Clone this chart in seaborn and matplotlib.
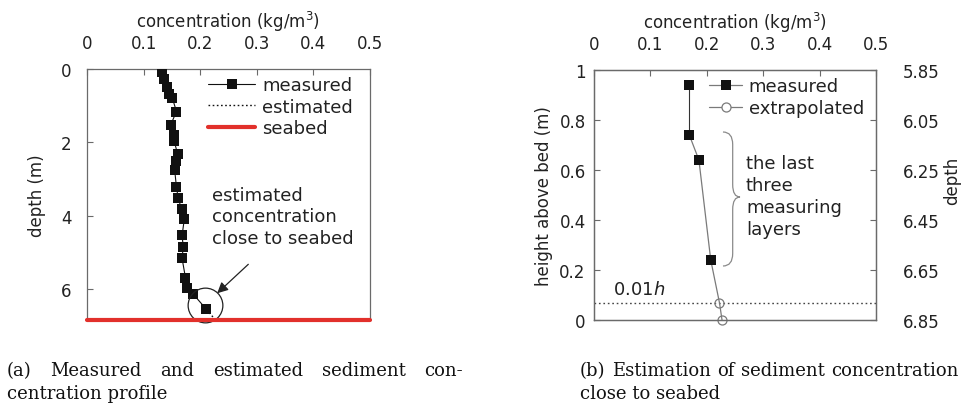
import matplotlib
matplotlib.use("Agg")
import matplotlib.pyplot as plt
from matplotlib.lines import Line2D
from matplotlib.path import Path
from matplotlib.patches import PathPatch
import pandas as pd
import seaborn as sns

# ---------------- data ----------------
# (a) full profile: concentration (kg/m^3) against depth (m)
profile_conc = [0.132, 0.136, 0.141, 0.144, 0.151, 0.158, 0.148, 0.154, 0.154,
                0.160, 0.158, 0.155, 0.158, 0.161, 0.167, 0.172, 0.168, 0.170,
                0.168, 0.174, 0.176, 0.188, 0.211]
profile_depth = [0.07, 0.26, 0.49, 0.67, 0.80, 1.16, 1.52, 1.79, 1.96,
                 2.32, 2.50, 2.77, 3.22, 3.51, 3.83, 4.09, 4.54, 4.85,
                 5.17, 5.70, 5.97, 6.15, 6.56]
estimated_conc = [0.211, 0.227]
estimated_depth = [6.56, 6.85]
seabed_depth = 6.85

# (b) near-bed detail: concentration against height above bed (m)
meas_conc = [0.169, 0.169, 0.186, 0.207]
meas_height = [0.94, 0.74, 0.64, 0.24]
extrap_conc = [0.2225, 0.227]
extrap_height = [0.0685, 0.0]
water_depth = 6.85

conc_ticks = [0, 0.1, 0.2, 0.3, 0.4, 0.5]
conc_ticklabels = ["0", "0.1", "0.2", "0.3", "0.4", "0.5"]
depth_ticks = [0, 2, 4, 6]
height_ticks = [0, 0.2, 0.4, 0.6, 0.8, 1.0]
height_ticklabels = ["0", "0.2", "0.4", "0.6", "0.8", "1"]
depth_b_ticks = [5.85, 6.05, 6.25, 6.45, 6.65, 6.85]

# ---------------- style ----------------
sns.set_theme(style="white")
plt.rcParams["font.family"] = ["DejaVu Sans"]
plt.rcParams.update({
    "font.size": 13,
    "text.color": "#222222",
    "axes.labelcolor": "#222222",
    "axes.edgecolor": "#6a6a6a",
    "axes.linewidth": 0.9,
    "xtick.color": "#6a6a6a",
    "ytick.color": "#6a6a6a",
    "xtick.labelcolor": "#222222",
    "ytick.labelcolor": "#222222",
    "xtick.labelsize": 12,
    "ytick.labelsize": 12,
    "mathtext.fontset": "dejavusans",
})

W, H = 968, 410
fig = plt.figure(figsize=(W / 100, H / 100), dpi=100)


def axes_px(x0, y0, x1, y1):
    return fig.add_axes([x0 / W, 1 - y1 / H, (x1 - x0) / W, (y1 - y0) / H])


INK = "#111111"
GREY = "#7a7a7a"
RED = "#e2302b"

# ======================= panel (a) =======================
axA = axes_px(87, 70, 370, 321)
dfA = pd.DataFrame({"conc": profile_conc, "depth": profile_depth})
sns.lineplot(data=dfA, x="conc", y="depth", orient="y", sort=False,
             estimator=None, color=INK, lw=0.8, marker="s", markersize=7,
             markeredgewidth=0, ax=axA, zorder=4)
sns.lineplot(x=estimated_conc, y=estimated_depth, orient="y", sort=False,
             estimator=None, color=INK, lw=1.0, linestyle=(0, (1.2, 1.8)),
             ax=axA, zorder=3)
axA.axhline(seabed_depth, color=RED, lw=3, clip_on=False, zorder=6)

# highlight ring and annotation near the bed
axA.plot([0.208], [6.45], marker="o", ms=25, mfc="none", mec="#222222",
         mew=0.9, clip_on=False, zorder=5)
axA.annotate("", xy=(0.230, 6.12), xytext=(0.285, 5.33),
             arrowprops=dict(arrowstyle="-|>", color="#222222", lw=0.9,
                             mutation_scale=16, shrinkA=0, shrinkB=0))
axA.text(0.221, 4.02, "estimated\nconcentration\nclose to seabed",
         ha="left", va="center", linespacing=1.25, fontsize=13)

axA.set_xlim(0, 0.5)
axA.set_ylim(seabed_depth, 0)
axA.set_xticks(conc_ticks, conc_ticklabels)
axA.set_yticks(depth_ticks)
axA.xaxis.tick_top()
axA.xaxis.set_label_position("top")
axA.tick_params(axis="x", direction="in", length=4, width=0.8, pad=12,
                top=True, bottom=False)
axA.tick_params(axis="y", direction="in", length=4, width=0.8, pad=11,
                left=True, right=False)
axA.set_xlabel("concentration (kg/m$^3$)", labelpad=5)
axA.set_ylabel("depth (m)")
axA.yaxis.set_label_coords(-0.145, 0.5)
axA.grid(False)

legA = [
    Line2D([], [], color=INK, lw=0.8, marker="s", ms=7, mew=0),
    Line2D([], [], color=INK, lw=1.0, linestyle=(0, (1.2, 1.8))),
    Line2D([], [], color=RED, lw=3),
]
axA.legend(legA, ["measured", "estimated", "seabed"], loc="upper left",
           bbox_to_anchor=(0.428, 0.972), frameon=False, fontsize=13,
           handlelength=2.6, handletextpad=0.4, labelspacing=0.2,
           borderpad=0, borderaxespad=0)

# ======================= panel (b) =======================
axB = axes_px(594, 71, 876, 321)
sns.lineplot(x=meas_conc[:2], y=meas_height[:2], orient="y", sort=False,
             estimator=None, color="#333333", lw=0.8, ax=axB, zorder=3)
line_c = meas_conc[1:] + extrap_conc
line_h = meas_height[1:] + extrap_height
sns.lineplot(x=line_c, y=line_h, orient="y", sort=False, estimator=None,
             color=GREY, lw=0.9, ax=axB, zorder=3)
sns.lineplot(x=meas_conc, y=meas_height, orient="y", sort=False,
             estimator=None, color=INK, lw=0, marker="s", markersize=7,
             markeredgewidth=0, ax=axB, zorder=4)
sns.lineplot(x=extrap_conc, y=extrap_height, orient="y", sort=False,
             estimator=None, lw=0, marker="o", markersize=6.5, mfc="none",
             mec=GREY, mew=0.9, ax=axB, zorder=4, clip_on=False)

axB.axhline(0.01 * water_depth, color="#444444", lw=1.0,
            linestyle=(0, (1.2, 2.0)), zorder=2)
axB.text(0.034, 0.124, "0.01$h$", ha="left", va="center", fontsize=13)

# curly brace marking the last three measuring layers
bx0, bxm, bxt = 0.2287, 0.2459, 0.2589
by_top, by_bot, by_mid, bd = 0.752, 0.216, 0.492, 0.05
verts = [(bx0, by_top), (bxm, by_top), (bxm, by_top - bd),
         (bxm, by_mid + bd),
         (bxm, by_mid), (bxt, by_mid),
         (bxm, by_mid), (bxm, by_mid - bd),
         (bxm, by_bot + bd),
         (bxm, by_bot), (bx0, by_bot)]
codes = [Path.MOVETO, Path.CURVE3, Path.CURVE3,
         Path.LINETO,
         Path.CURVE3, Path.CURVE3,
         Path.CURVE3, Path.CURVE3,
         Path.LINETO,
         Path.CURVE3, Path.CURVE3]
axB.add_patch(PathPatch(Path(verts, codes), fc="none", ec="#8a8a8a", lw=0.9))
axB.text(0.2695, 0.496, "the last\nthree\nmeasuring\nlayers", ha="left",
         va="center", linespacing=1.3, fontsize=13)

axB.set_xlim(0, 0.5)
axB.set_ylim(0, 1)
axB.set_xticks(conc_ticks, conc_ticklabels)
axB.set_yticks(height_ticks, height_ticklabels)
axB.xaxis.tick_top()
axB.xaxis.set_label_position("top")
axB.tick_params(axis="x", direction="in", length=4, width=0.8, pad=12,
                top=True, bottom=False)
axB.tick_params(axis="y", direction="in", length=4, width=0.8, pad=6,
                left=True, right=False)
axB.set_xlabel("concentration (kg/m$^3$)", labelpad=5)
axB.set_ylabel("height above bed (m)")
axB.yaxis.set_label_coords(-0.146, 0.5)
axB.grid(False)

axD = axB.twinx()
axD.set_ylim(water_depth, water_depth - 1.0)
axD.set_yticks(depth_b_ticks, [f"{v:.2f}" for v in depth_b_ticks])
axD.tick_params(axis="y", direction="in", length=4, width=0.8, pad=19,
                right=True, left=False)
axD.set_ylabel("depth")
axD.yaxis.set_label_coords(1.238, 0.56)
axD.grid(False)

legB = [
    Line2D([], [], color=GREY, lw=0.9, marker="s", ms=7, mfc=INK, mec=INK,
           mew=0),
    Line2D([], [], color=GREY, lw=0.9, marker="o", ms=6.5, mfc="white",
           mec=GREY, mew=0.9),
]
axB.legend(legB, ["measured", "extrapolated"], loc="upper left",
           bbox_to_anchor=(0.408, 0.97), frameon=False, fontsize=13,
           handlelength=1.85, handletextpad=0.35, labelspacing=0.2,
           borderpad=0, borderaxespad=0)

# ---------------- captions ----------------
cap_kw = dict(family=["DejaVu Serif"], fontsize=13,
              color="#111111", va="baseline", ha="left")
renderer = fig.canvas.get_renderer()


def caption_line(text, x0, y, x1=None):
    """Place one caption line; stretch word gaps when a right edge is given."""
    words = text.split(" ")
    if x1 is None:
        fig.text(x0 / W, 1 - y / H, text, **cap_kw)
        return
    objs = [fig.text(0, 1 - y / H, w, **cap_kw) for w in words]
    widths = [t.get_window_extent(renderer).width for t in objs]
    gap = (x1 - x0 - sum(widths)) / (len(words) - 1)
    x = x0
    for t, w in zip(objs, widths):
        t.set_x(x / W)
        x += w + gap


caption_line("(a) Measured and estimated sediment con-", 7, 376, 463)
caption_line("centration profile", 7, 399)
caption_line("(b) Estimation of sediment concentration", 580, 376, 958)
caption_line("close to seabed", 580, 399)

fig.savefig("out.png", dpi=100)
